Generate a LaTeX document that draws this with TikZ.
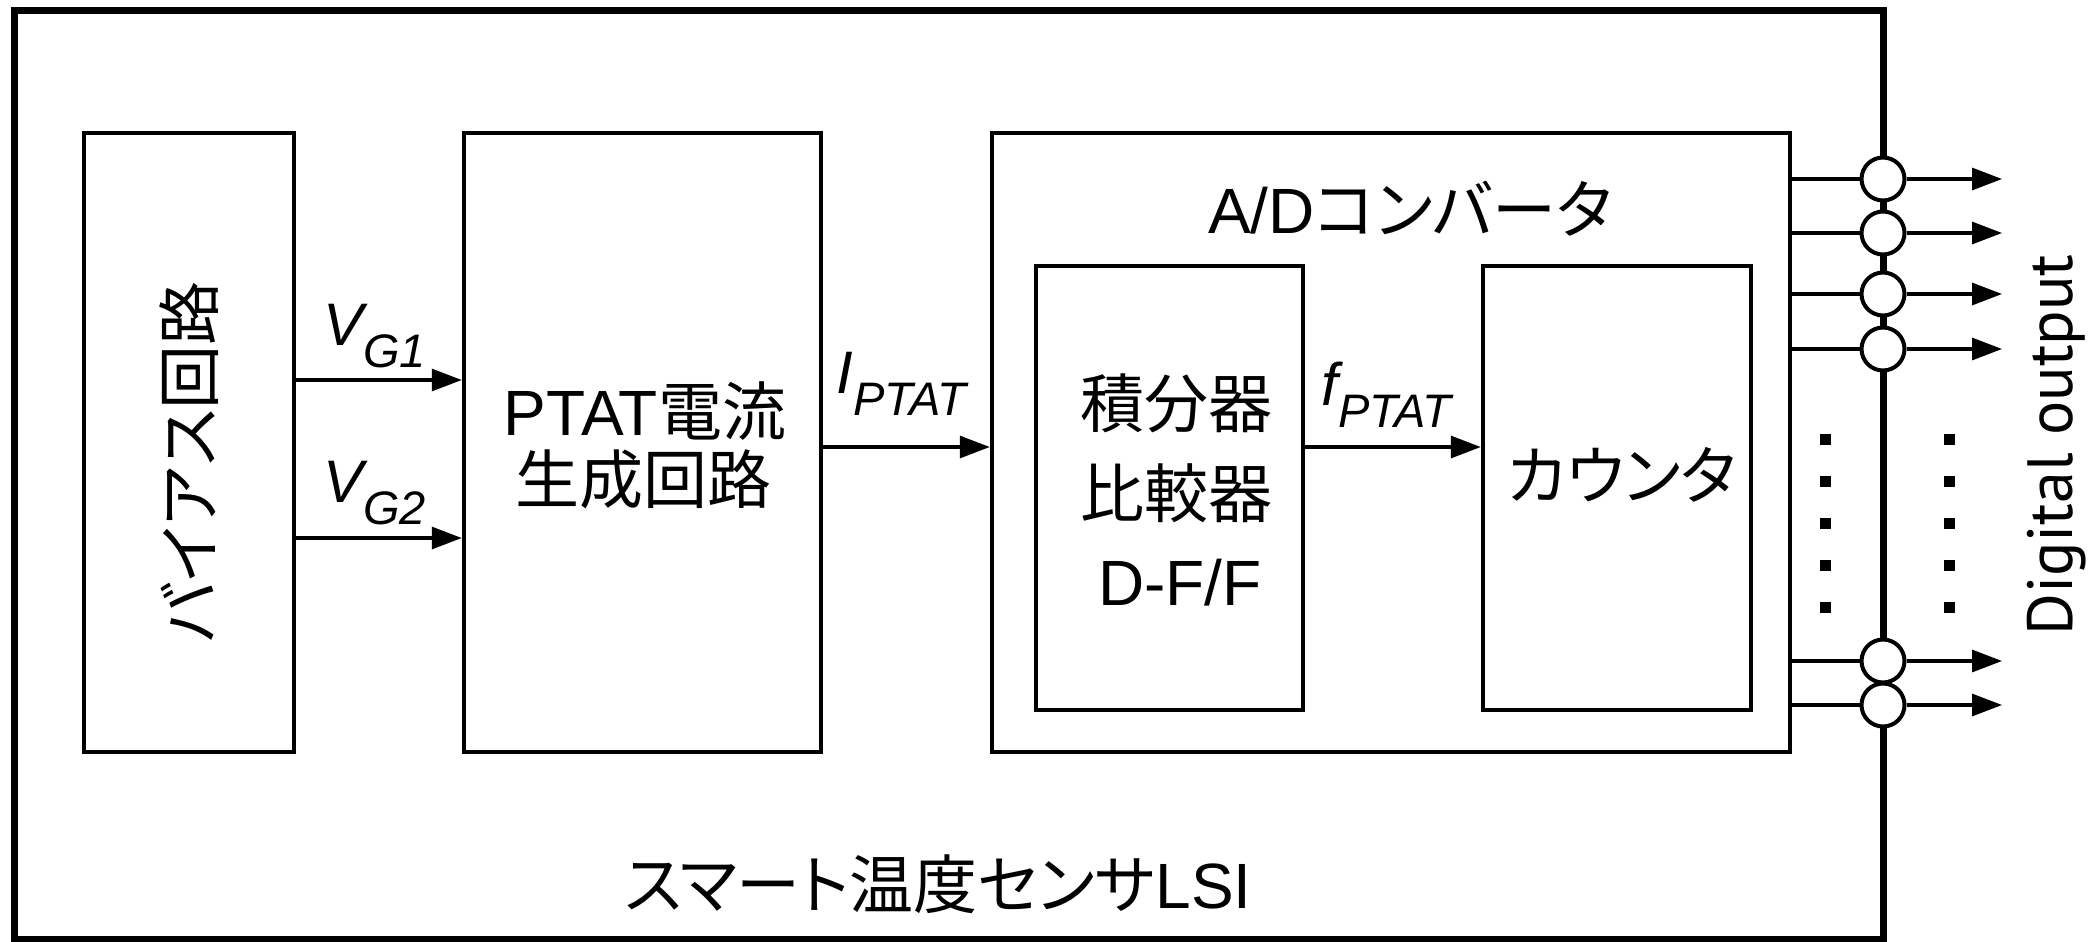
\documentclass[tikz,border=0pt]{standalone}
\usepackage{fontspec}
\setmainfont{Liberation Sans}
\newfontfamily\jp[RawFeature=+palt]{Noto Sans CJK JP}
\newfontfamily\dig{PT Sans}
\usetikzlibrary{arrows.meta}
\begin{document}
\begin{tikzpicture}[x=0.5pt,y=-0.5pt,
  blk/.style={draw, line width=2.25pt, rectangle, inner sep=0pt},
  arr/.style={line width=1.6pt, -{Triangle[length=15pt,width=11pt]}},
  wire/.style={line width=1.6pt},
  pin/.style={circle, draw, fill=white, line width=2pt, minimum size=21.5pt, inner sep=0pt},
  txt/.style={inner sep=0pt, font=\fontsize{32}{38}\selectfont},
  lbl/.style={inner sep=0pt, anchor=base west, font=\fontsize{30}{36}\selectfont\itshape}
]
\useasboundingbox (0,0) rectangle (2099,942);

% outer chip
\node[draw, line width=3.5pt, inner sep=0pt, minimum width=934.5pt, minimum height=464.5pt] (lsi) at (948.5,474.5) {};

% blocks
\node[blk, minimum width=105pt, minimum height=309.5pt] (bias) at (189,442.5) {};
\node[blk, minimum width=178.5pt, minimum height=309.5pt] (ptat) at (642.5,442.5) {};
\node[blk, minimum width=399pt, minimum height=309.5pt] (ad) at (1391,442.5) {};
\node[blk, minimum width=133.5pt, minimum height=222pt] (integ) at (1169.5,488) {};
\node[blk, minimum width=134pt, minimum height=222pt] (cnt) at (1617,488) {};

% texts
\node[txt, rotate=90] (biast) at (189,462) {\jp バイアス回路};
\node[txt] (pt1) at (645,411) {PTAT{\jp 電流}};
\node[txt] (pt2) at (643,479) {\jp 生成回路};
\node[txt] (adt) at (1410,209) {A/D{\jp コンバータ}};
\node[txt] (it1) at (1176,403) {\jp 積分器};
\node[txt] (it2) at (1176,493) {\jp 比較器};
\node[txt] (it3) at (1180,583) {D-F/F};
\node[txt] (cntt) at (1622,475) {\jp カウンタ};
\node[txt] (lsit) at (938,884) {{\jp スマート温度センサ}LSI};
\node[inner sep=0pt, rotate=90, font=\dig\fontsize{32}{38}\selectfont] (dout) at (2057,445) {Digital output};

% signal arrows
\coordinate (ya) at (0,380);
\coordinate (yb) at (0,538);
\coordinate (yc) at (0,447);
\draw[arr] (bias.east |- ya) -- (ptat.west |- ya);
\draw[arr] (bias.east |- yb) -- (ptat.west |- yb);
\draw[arr] (ptat.east |- yc) -- (ad.west |- yc);
\draw[arr] (integ.east |- yc) -- (cnt.west |- yc);

% signal labels
\node[lbl] (vg1) at (323,345) {V\raisebox{-11pt}{\fontsize{23.5}{28}\selectfont G1}};
\node[lbl] (vg2) at (323,502) {V\raisebox{-11pt}{\fontsize{23.5}{28}\selectfont G2}};
\node[lbl] (ip) at (836,393) {I\raisebox{-11pt}{\fontsize{23.5}{28}\selectfont PTAT}};
\node[lbl] (fp) at (1321,405) {f\raisebox{-11pt}{\fontsize{23.5}{28}\selectfont PTAT}};

% output pins
\foreach \i/\y in {1/179,2/233,3/294,4/349,5/661,6/705}{
  \node[pin] (o\i) at (1883,\y) {};
  \coordinate (t\i) at (2002,\y);
  \draw[wire] (ad.east |- o\i) -- (o\i.west);
  \draw[arr] (o\i.east) -- (t\i);
}

% ellipsis dots
\foreach \y in {439,481,523,565,607}{
  \fill (1820,\y-5.5) rectangle (1831,\y+5.5);
  \fill (1944,\y-5.5) rectangle (1955,\y+5.5);
}
\end{tikzpicture}
\end{document}
